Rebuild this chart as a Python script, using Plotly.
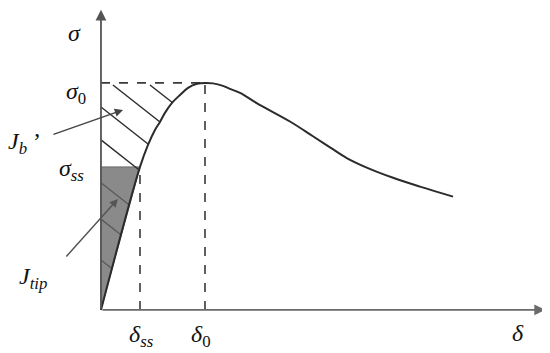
import numpy as np
import plotly.graph_objects as go

# traction-separation curve (delta normalised by delta_0, sigma by sigma_0)
curve_delta = [0.0, 0.375, 0.452, 0.519, 0.567, 0.615, 0.683, 0.76, 0.837, 0.923, 1.0,
               1.077, 1.173, 1.24, 1.337, 1.497, 1.817, 2.038, 2.202, 2.363, 2.555, 2.808, 3.067, 3.385]
curve_sigma = [0.0, 0.630, 0.727, 0.793, 0.828, 0.868, 0.912, 0.947, 0.978, 0.996, 1.0,
               0.998, 0.987, 0.974, 0.956, 0.911, 0.830, 0.765, 0.716, 0.669, 0.627, 0.582, 0.543, 0.499]

delta_0, sigma_0 = 1.0, 1.0
delta_ss, sigma_ss = 0.375, 0.630

# hatch start points (Jb' area and Jtip area)
hatch_jb = [(0.115, 0.991), (0.471, 0.991), (0.0, 0.894), (0.0, 0.749)]
hatch_tip = [(0.0, 0.56), (0.0, 0.40), (0.0, 0.22)]
hatch_slope = -0.36

fig = go.Figure()

# shaded J_tip triangle
fig.add_trace(go.Scatter(x=[0, 0, delta_ss, 0], y=[0, sigma_ss, sigma_ss, 0], mode="lines",
                         fill="toself", fillcolor="#8a8a8a", line=dict(color="#6a6a6a", width=1)))

# dashed guide lines
dash = dict(color="#3a3a3a", width=1.6, dash="dash")
fig.add_trace(go.Scatter(x=[0, delta_0], y=[sigma_0, sigma_0], mode="lines", line=dash))
fig.add_trace(go.Scatter(x=[delta_0, delta_0], y=[0, sigma_0], mode="lines", line=dash))
fig.add_trace(go.Scatter(x=[delta_ss, delta_ss], y=[0, sigma_ss], mode="lines", line=dash))

# hatching: run each line down-right until it meets the rising branch of the curve
n_rise = curve_delta.index(delta_0) + 1
rise_d = np.array(curve_delta[:n_rise])
rise_s = np.array(curve_sigma[:n_rise])
grid = np.linspace(0, delta_0, 2001)
curve_on_grid = np.interp(grid, rise_d, rise_s)
for x0, y0 in hatch_jb + hatch_tip:
    line_y = y0 + hatch_slope * (grid - x0)
    ok = (grid > x0) & (line_y <= curve_on_grid)
    xe = grid[ok][0]
    fig.add_trace(go.Scatter(x=[x0, xe], y=[y0, y0 + hatch_slope * (xe - x0)], mode="lines",
                             line=dict(color="#2a2a2a" if (x0, y0) in hatch_jb else "#5a5a5a", width=1.4)))

# main curve
fig.add_trace(go.Scatter(x=curve_delta, y=curve_sigma, mode="lines", line_shape="spline",
                         line=dict(color="#2b2b2b", width=2, smoothing=1.0)))

# axes with arrows
fig.add_annotation(x=0, y=1.322, ax=0, ay=0, xref="x", yref="y", axref="x", ayref="y", text="",
                   showarrow=True, arrowhead=2, arrowsize=1.2, arrowwidth=1.8, arrowcolor="#555555")
fig.add_annotation(x=4.27, y=0, ax=0, ay=0, xref="x", yref="y", axref="x", ayref="y", text="",
                   showarrow=True, arrowhead=2, arrowsize=1.2, arrowwidth=1.8, arrowcolor="#6a6a6a")

# pointer arrows
fig.add_annotation(x=0.212, y=0.881, ax=-0.471, ay=0.771, xref="x", yref="y", axref="x", ayref="y", text="",
                   showarrow=True, arrowhead=2, arrowsize=1.1, arrowwidth=1.5, arrowcolor="#444444")
fig.add_annotation(x=0.163, y=0.489, ax=-0.346, ay=0.229, xref="x", yref="y", axref="x", ayref="y", text="",
                   showarrow=True, arrowhead=2, arrowsize=1.1, arrowwidth=1.5, arrowcolor="#555555")

font = dict(family="Liberation Serif", size=24, color="#111111")
labels = [
    ("<i>σ</i>", -0.25, 1.22),
    ("<i>σ</i><sub>0</sub>", -0.24, 0.956),
    ("<i>J<sub>b</sub></i> ’", -0.74, 0.735),
    ("<i>σ<sub>ss</sub></i>", -0.288, 0.617),
    ("<i>J<sub>tip</sub></i>", -0.654, 0.141),
    ("<i>δ<sub>ss</sub></i>", 0.394, -0.115),
    ("<i>δ</i><sub>0</sub>", 0.96, -0.115),
    ("<i>δ</i>", 4.01, -0.101),
]
for txt, lx, ly in labels:
    fig.add_annotation(x=lx, y=ly, text=txt, showarrow=False, font=font)

# ranges account for the 8px page margin around the plot div
fig.update_xaxes(visible=False, range=[-0.894, 4.394])
fig.update_yaxes(visible=False, range=[-0.225, 1.330])
fig.update_layout(width=550, height=353, margin=dict(l=0, r=0, t=0, b=0), showlegend=False,
                  plot_bgcolor="white", paper_bgcolor="white")
fig.write_html("out.html")
